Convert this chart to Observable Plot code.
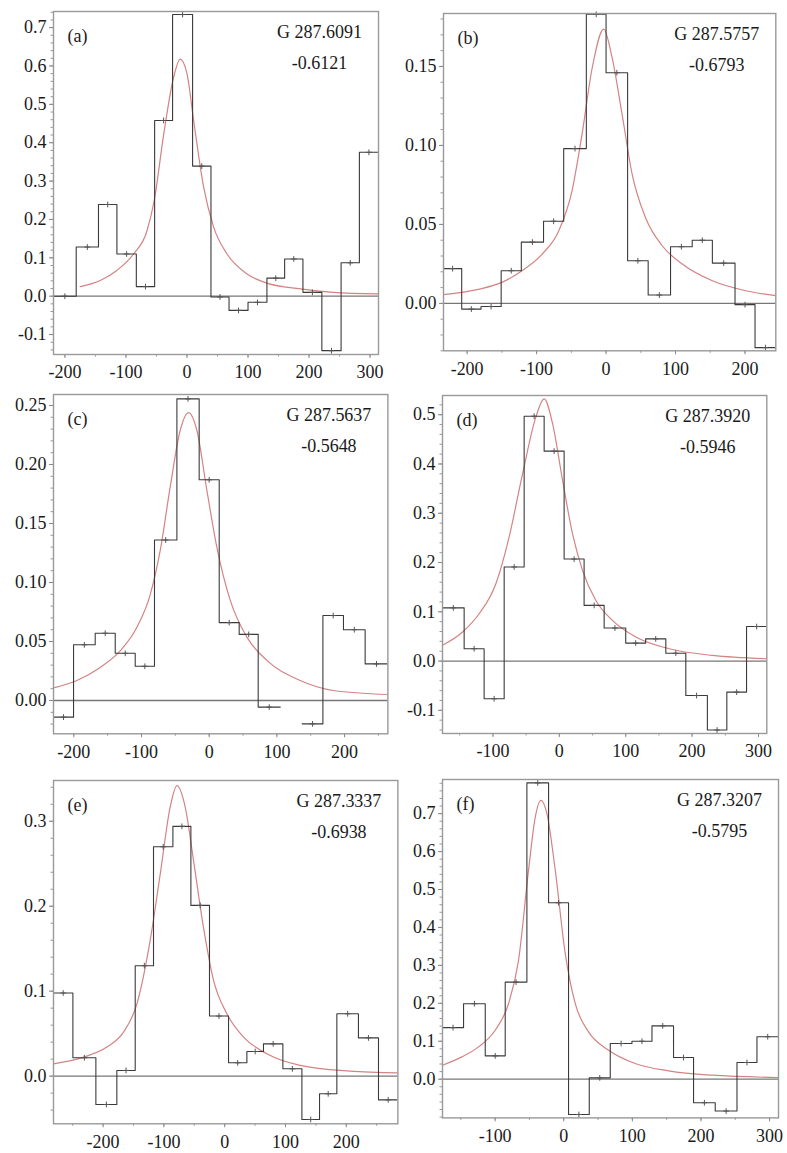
<!DOCTYPE html>
<html><head><meta charset="utf-8">
<script src="https://cdn.jsdelivr.net/npm/d3@7"></script>
<script src="https://cdn.jsdelivr.net/npm/@observablehq/plot@0.6"></script>
<style>
body{margin:0;background:#fff;}
#wrap{position:relative;width:787px;height:1153px;overflow:hidden;background:#fff;}
#wrap svg{position:absolute;}
</style></head><body><div id="wrap"></div>
<script>
// ---------- Panel (a) ----------
const aLabel = "(a)", aName = "G 287.6091", aLat = "-0.6121";
const aXDomain = [-218.7, 313.8], aYDomain = [-0.152, 0.742];
const aXTicks = [-200, -100, 0, 100, 200, 300];
const aYTicks = [-0.1, 0, 0.1, 0.2, 0.3, 0.4, 0.5, 0.6, 0.7];
const aEdges = [-218.7, -181.5, -145, -114.8, -83, -53, -23.6, 9.2, 39.3, 68.9, 100, 131, 160, 190, 221, 252.5, 282.5, 313.8];
const aValues = [0.0, 0.128, 0.239, 0.110, 0.025, 0.458, 0.734, 0.339, -0.002, -0.037, -0.016, 0.047, 0.097, 0.010, -0.142, 0.087, 0.375];
const aFitX = [-175, -142, -115, -87.5, -65.6, -53.6, -38.3, -22, -11, 0, 10.9, 27.3, 43.7, 65.6, 98.4, 131, 185.7, 240, 314];
const aFitY = [0.025, 0.041, 0.067, 0.11, 0.17, 0.25, 0.42, 0.57, 0.618, 0.58, 0.458, 0.284, 0.18, 0.11, 0.058, 0.034, 0.019, 0.010, 0.006];

// ---------- Panel (b) ----------
const bLabel = "(b)", bName = "G 287.5757", bLat = "-0.6793";
const bXDomain = [-234, 244.3], bYDomain = [-0.030, 0.1835];
const bXTicks = [-200, -100, 0, 100, 200];
const bYTicks = [0, 0.05, 0.10, 0.15];
const bEdges = [-234, -207.8, -180, -151, -122, -90, -61, -28.4, 0, 31, 60.6, 92.8, 124, 153, 185.6, 214.4, 244.3];
const bValues = [0.022, -0.0036, -0.002, 0.0207, 0.0388, 0.052, 0.098, 0.183, 0.146, 0.027, 0.0053, 0.0359, 0.040, 0.0255, -0.0008, -0.028];
const bFitX = [-234, -184, -150, -121, -92, -68, -49, -34.6, -20, -3.4, 8.6, 23, 37.5, 56.7, 80.8, 109.7, 153, 201, 244];
const bFitY = [0.0055, 0.0089, 0.0133, 0.0207, 0.0312, 0.046, 0.0713, 0.107, 0.149, 0.1736, 0.1557, 0.1198, 0.0819, 0.0544, 0.0365, 0.0249, 0.0143, 0.008, 0.0049];

// ---------- Panel (c) ----------
const cLabel = "(c)", cName = "G 287.5637", cLat = "-0.5648";
const cXDomain = [-230, 264], cYDomain = [-0.0282, 0.2593];
const cXTicks = [-200, -100, 0, 100, 200];
const cYTicks = [0, 0.05, 0.10, 0.15, 0.20, 0.25];
const cEdges = [-230, -200.4, -168.4, -138.8, -109.3, -80.8, -47.7, -14.8, 14.8, 44.3, 72.4, 105, 137.4, 168, 198.4, 230.4, 264];
const cValues = [-0.0141, 0.0472, 0.057, 0.040, 0.029, 0.136, 0.2556, 0.187, 0.066, 0.056, -0.0056, null, -0.0198, 0.072, 0.060, 0.031];
const cFitX = [-230, -195.4, -161, -131.5, -106.8, -87, -72.4, -57.6, -42.8, -30.5, -18.2, -3.4, 11.3, 31, 55.7, 85.2, 134.4, 183.6, 264];
const cFitY = [0.0107, 0.017, 0.028, 0.042, 0.062, 0.090, 0.127, 0.181, 0.229, 0.244, 0.229, 0.178, 0.130, 0.085, 0.0537, 0.034, 0.017, 0.0085, 0.0051];

// ---------- Panel (d) ----------
const dLabel = "(d)", dName = "G 287.3920", dLat = "-0.5946";
const dXDomain = [-176, 312.5], dYDomain = [-0.147, 0.539];
const dXTicks = [-100, 0, 100, 200, 300];
const dYTicks = [-0.1, 0, 0.1, 0.2, 0.3, 0.4, 0.5];
const dEdges = [-176, -143.4, -113.3, -83.1, -53, -22.9, 7.2, 37.3, 67.5, 100, 130, 160.4, 190.5, 223, 252.3, 282, 312.5];
const dValues = [0.108, 0.025, -0.0765, 0.191, 0.497, 0.426, 0.207, 0.113, 0.067, 0.0365, 0.045, 0.016, -0.070, -0.140, -0.063, 0.070];
const dFitX = [-176, -145.8, -120.8, -95.6, -75.6, -55.4, -35.4, -22.9, -10.2, 4.8, 19.9, 34.9, 55, 80, 115.2, 165.4, 230.7, 312.5];
const dFitY = [0.032, 0.059, 0.096, 0.157, 0.252, 0.380, 0.495, 0.532, 0.482, 0.367, 0.258, 0.184, 0.123, 0.0825, 0.0487, 0.025, 0.0115, 0.0047];

// ---------- Panel (e) ----------
const eLabel = "(e)", eName = "G 287.3337", eLat = "-0.6938";
const eXDomain = [-281.6, 284.9], eYDomain = [-0.0561, 0.348];
const eXTicks = [-200, -100, 0, 100, 200];
const eYTicks = [0, 0.1, 0.2, 0.3];
const eEdges = [-281.6, -249.7, -211.9, -177.4, -147.2, -117.1, -85.2, -55.6, -25, 6.3, 36.5, 63.8, 95.7, 127, 156, 184.5, 220, 253, 284.9];
const eValues = [0.0978, 0.0216, -0.0334, 0.0067, 0.130, 0.270, 0.294, 0.201, 0.0707, 0.0157, 0.029, 0.038, 0.0086, -0.051, -0.0208, 0.0734, 0.045, -0.0279];
const eFitX = [-281.6, -232, -193.8, -166.4, -144.4, -122.5, -106, -89.6, -78.6, -65, -51.3, -34.9, -18.4, 3.6, 31, 69.4, 124, 206.4, 284.9];
const eFitY = [0.0145, 0.0224, 0.0342, 0.0518, 0.085, 0.160, 0.238, 0.317, 0.342, 0.317, 0.254, 0.175, 0.113, 0.0734, 0.046, 0.0263, 0.0126, 0.0059, 0.0039];

// ---------- Panel (f) ----------
const fLabel = "(f)", fName = "G 287.3207", fLat = "-0.5795";
const fXDomain = [-176.7, 313], fYDomain = [-0.102, 0.790];
const fXTicks = [-100, 0, 100, 200, 300];
const fYTicks = [0, 0.1, 0.2, 0.3, 0.4, 0.5, 0.6, 0.7];
const fEdges = [-176.7, -146, -114.4, -85.3, -53.7, -22.1, 7, 37.2, 67.8, 99.4, 128.6, 160, 189.2, 220.8, 252.5, 281.6, 313];
const fValues = [0.136, 0.199, 0.0615, 0.256, 0.781, 0.465, -0.093, 0.0035, 0.094, 0.100, 0.1405, 0.057, -0.062, -0.084, 0.044, 0.112];
const fFitX = [-176.7, -148.4, -124.2, -99.9, -80.5, -65.9, -51.3, -41.5, -33.3, -24.5, -12.4, 2.2, 16.8, 36.2, 65.4, 104.2, 152.8, 216, 313];
const fFitY = [0.0369, 0.0588, 0.0852, 0.129, 0.199, 0.313, 0.551, 0.691, 0.735, 0.700, 0.551, 0.331, 0.199, 0.1247, 0.0764, 0.0413, 0.022, 0.0105, 0.0044];

// ---------- layout (frame boxes in page pixels) ----------
const panels = [
  {label: aLabel, name: aName, lat: aLat, xd: aXDomain, yd: aYDomain, xt: aXTicks, yt: aYTicks, yfmt: ".1f", edges: aEdges, values: aValues, fx: aFitX, fy: aFitY, box: {L: 53.3, T: 11, W: 325, H: 343}},
  {label: bLabel, name: bName, lat: bLat, xd: bXDomain, yd: bYDomain, xt: bXTicks, yt: bYTicks, yfmt: ".2f", edges: bEdges, values: bValues, fx: bFitX, fy: bFitY, box: {L: 442.7, T: 12.7, W: 332.3, H: 337.3}},
  {label: cLabel, name: cName, lat: cLat, xd: cXDomain, yd: cYDomain, xt: cXTicks, yt: cYTicks, yfmt: ".2f", edges: cEdges, values: cValues, fx: cFitX, fy: cFitY, box: {L: 53.3, T: 394, W: 334.4, H: 339.3}},
  {label: dLabel, name: dName, lat: dLat, xd: dXDomain, yd: dYDomain, xt: dXTicks, yt: dYTicks, yfmt: ".1f", edges: dEdges, values: dValues, fx: dFitX, fy: dFitY, box: {L: 441.7, T: 395, W: 324.3, H: 338}},
  {label: eLabel, name: eName, lat: eLat, xd: eXDomain, yd: eYDomain, xt: eXTicks, yt: eYTicks, yfmt: ".1f", edges: eEdges, values: eValues, fx: eFitX, fy: eFitY, box: {L: 53.3, T: 780, W: 344.4, H: 343.3}},
  {label: fLabel, name: fName, lat: fLat, xd: fXDomain, yd: fYDomain, xt: fXTicks, yt: fYTicks, yfmt: ".1f", edges: fEdges, values: fValues, fx: fFitX, fy: fFitY, box: {L: 442.3, T: 779.3, W: 336, H: 338.4}}
];

const ml = 50, mr = 8, mt = 6, mb = 28;
const FONT = "'Liberation Serif', 'Times New Roman', serif";
const hy = s => s.replace(/\u2212/g, "-");
const wrap = document.getElementById("wrap");

for (const p of panels) {
  const steps = [];
  p.values.forEach((v, i) => {
    steps.push({x: p.edges[i], y: v});
    steps.push({x: p.edges[i + 1], y: v});
  });
  const centers = p.values
    .map((v, i) => ({x: (p.edges[i] + p.edges[i + 1]) / 2, y: v}))
    .filter(d => d.y != null);
  const fit = p.fx.map((x, i) => ({x, y: p.fy[i]}));
  const yStep = p.yt[1] - p.yt[0];
  const yMinor = d3.range(Math.ceil(p.yd[0] / (yStep / 5)), Math.floor(p.yd[1] / (yStep / 5)) + 1).map(k => k * yStep / 5);
  const xMinor = d3.range(Math.ceil(p.xd[0] / 50), Math.floor(p.xd[1] / 50) + 1).map(k => k * 50);
  const yf = d3.format(p.yfmt);

  const svg = Plot.plot({
    width: p.box.W + ml + mr,
    height: p.box.H + mt + mb,
    marginLeft: ml, marginRight: mr, marginTop: mt, marginBottom: mb,
    style: {fontFamily: FONT, fontSize: "18px", color: "#222", background: "transparent", overflow: "visible"},
    x: {domain: p.xd, label: null},
    y: {domain: p.yd, label: null},
    marks: [
      Plot.axisX(xMinor, {tickSize: 2.5, text: null, stroke: "#999", label: null}),
      Plot.axisX(p.xt, {tickSize: 4, tickPadding: 7, tickFormat: d => hy(String(d)), stroke: "#888", fill: "#1a1a1a", fontSize: 18, label: null}),
      Plot.axisY(yMinor, {tickSize: 2.5, text: null, stroke: "#999", label: null}),
      Plot.axisY(p.yt, {tickSize: 4, tickPadding: 3, tickFormat: d => hy(yf(d)), stroke: "#888", fill: "#1a1a1a", fontSize: 18, label: null}),
      Plot.ruleY([0], {stroke: "#777", strokeWidth: 1.3}),
      Plot.line(fit, {x: "x", y: "y", stroke: "#d48383", strokeWidth: 1.2, curve: "monotone-x", clip: true}),
      Plot.line(steps, {x: "x", y: "y", stroke: "#3a3a3a", strokeWidth: 1.1, clip: true}),
      Plot.dot(centers, {x: "x", y: "y", symbol: "plus", r: 2, stroke: "#555", strokeWidth: 1}),
      Plot.frame({stroke: "#999", strokeWidth: 1.4}),
      Plot.text([p.label], {frameAnchor: "top-left", textAnchor: "start", lineAnchor: "middle", dx: 14, dy: 25, fontSize: 18, fill: "#1a1a1a"}),
      Plot.text([p.name], {frameAnchor: "top-right", textAnchor: "middle", lineAnchor: "middle", dx: -59, dy: 21, fontSize: 18, fill: "#1a1a1a"}),
      Plot.text([p.lat], {frameAnchor: "top-right", textAnchor: "middle", lineAnchor: "middle", dx: -59, dy: 52, fontSize: 18, fill: "#1a1a1a"})
    ]
  });
  svg.style.left = (p.box.L - ml) + "px";
  svg.style.top = (p.box.T - mt) + "px";
  wrap.appendChild(svg);
}
</script>
</body></html>
